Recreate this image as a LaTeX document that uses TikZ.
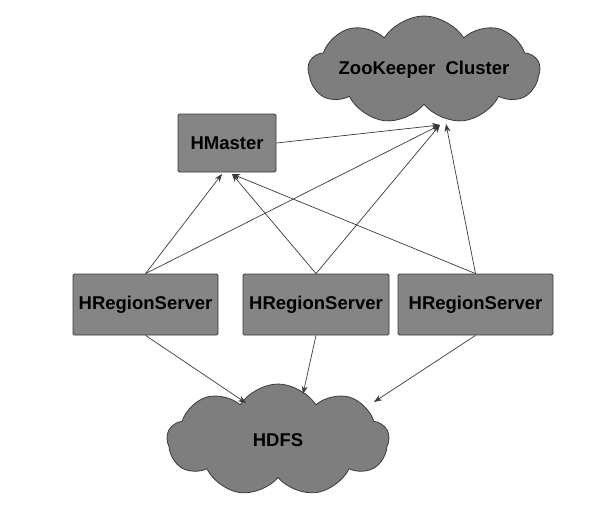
\documentclass[tikz,border=0pt]{standalone}
\usepackage{fontspec}
\setmainfont{Liberation Sans}
\usetikzlibrary{shapes.symbols,arrows.meta,calc}
\definecolor{boxgray}{HTML}{858585}
\definecolor{cloudgray}{HTML}{7E7E7E}
\definecolor{edgegray}{HTML}{3A3A3A}
\tikzset{
  srvbox/.style={draw=edgegray, line width=0.8pt, fill=boxgray, rounded corners=1.5pt,
    font=\fontsize{18.5}{21}\selectfont\bfseries, inner sep=0pt},
  cloudnode/.style={cloud, cloud puffs=9, cloud puff arc=115, cloud ignores aspect, draw=edgegray, line width=0.8pt,
    fill=cloudgray, inner sep=0pt, font=\fontsize{18.5}{21}\selectfont\bfseries},
  conn/.style={draw=edgegray, line width=0.7pt, -{Stealth[length=8pt,width=6pt]}}
}
\begin{document}
\begin{tikzpicture}[x=1pt,y=-1pt]
\useasboundingbox (0,0) rectangle (592,506);
\node[cloudnode, minimum width=210pt, minimum height=108pt] (zk) at (424,70) {ZooKeeper\ \ Cluster};
\node[cloudnode, minimum width=222pt, minimum height=112pt] (hdfs) at (278,440) {HDFS};
\node[srvbox, minimum width=98pt, minimum height=58pt] (hm) at (227,143) {HMaster};
\node[srvbox, minimum width=145pt, minimum height=61pt] (rs1) at (145.5,304.5) {HRegionServer};
\node[srvbox, minimum width=146pt, minimum height=61pt] (rs2) at (316,304.5) {HRegionServer};
\node[srvbox, minimum width=155pt, minimum height=61pt] (rs3) at (475.5,304.5) {HRegionServer};
\coordinate (zkin) at (440,125);
\coordinate (zkin2) at (446,124);
\coordinate (hmin1) at (222,174);
\coordinate (hmin2) at (232,174);
\coordinate (hdin1) at (246,403);
\coordinate (hdin2) at (303,394);
\coordinate (hdin3) at (374,402);
\draw[conn] (hm.east) -- (zkin);
\draw[conn] (rs1.north) -- (hmin1);
\draw[conn] (rs1.north) -- (zkin);
\draw[conn] (rs2.north) -- (hmin2);
\draw[conn] (rs2.north) -- (zkin);
\draw[conn] (rs3.north) -- (hmin2);
\draw[conn] (rs3.north) -- (zkin2);
\draw[conn] (rs1.south) -- (hdin1);
\draw[conn] (rs2.south) -- (hdin2);
\draw[conn] (rs3.south) -- (hdin3);
\end{tikzpicture}
\end{document}
